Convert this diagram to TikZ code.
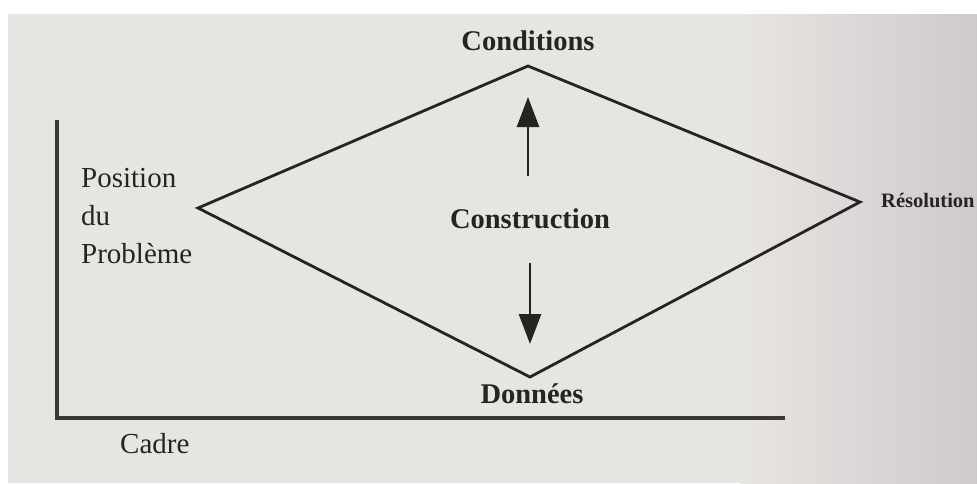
\documentclass[tikz,border=0pt]{standalone}
\usepackage{fontspec}
\setmainfont{Liberation Serif}
\usetikzlibrary{arrows.meta}
\definecolor{paper}{HTML}{E7E5E2}
\definecolor{paperdark}{HTML}{CFC9CB}
\definecolor{ink}{HTML}{262423}
\definecolor{axisink}{HTML}{3A3837}
\tikzset{
  lbl/.style={inner sep=0pt, text=ink, font=\bfseries\fontsize{28.5}{30}\selectfont},
  lblreg/.style={inner sep=0pt, text=ink, font=\fontsize{29}{30}\selectfont},
  edge/.style={draw=ink, line width=2.8pt, line join=miter},
  axis/.style={draw=axisink, line width=3.6pt},
  flow/.style={draw=ink, line width=2.8pt, -{Triangle[length=30pt,width=22pt]}},
}
\begin{document}
\begin{tikzpicture}[x=1pt,y=-1pt]
\useasboundingbox (0,0) rectangle (977,483);
\clip (0,0) rectangle (977,483);
\fill[white] (0,0) rectangle (977,483);
\fill[paper] (8,14) rectangle (977,483);
\shade[left color=paper, right color=paperdark] (740,14) rectangle (977,483);
% diamond vertices
\coordinate (L) at (198,208);
\coordinate (T) at (528,66);
\coordinate (R) at (860,202);
\coordinate (B) at (530,377);
\draw[edge] (L) -- (T) -- (R) -- (B) -- cycle;
% axes
\coordinate (ax0) at (57,120);
\coordinate (ax1) at (57,418);
\coordinate (ax2) at (785,418);
\draw[axis] (ax0) -- (ax1) -- (ax2);
% labels
\node[lbl, anchor=base] (cond) at (528,50) {Conditions};
\node[lbl, anchor=base] (cons) at (530,228) {Construction};
\node[lbl, anchor=base] (donn) at (532,403) {Données};
\node[lblreg, anchor=base west] (pos1) at (81,187) {Position};
\node[lblreg, anchor=base west] (pos2) at (81,225) {du};
\node[lblreg, anchor=base west] (pos3) at (81,263) {Problème};
\node[lblreg, anchor=base west] (cadre) at (120,453) {Cadre};
\node[inner sep=0pt, text=ink, font=\bfseries\fontsize{20.5}{22}\selectfont, anchor=base west] (reso) at (881,207) {Résolution};
% arrows
\coordinate (u0) at (528,176);
\coordinate (u1) at (528,97);
\coordinate (d0) at (530,263);
\coordinate (d1) at (530,344);
\draw[flow] (u0) -- (u1);
\draw[flow] (d0) -- (d1);
\end{tikzpicture}
\end{document}
